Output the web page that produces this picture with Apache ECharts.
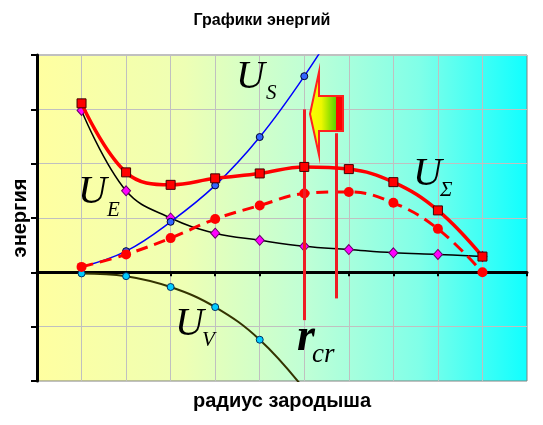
<!DOCTYPE html>
<html><head><meta charset="utf-8">
<script src="https://cdn.jsdelivr.net/npm/echarts@6/dist/echarts.min.js"></script>
<style>html,body{margin:0;padding:0;background:#fff}#c{width:543px;height:425px}</style>
</head><body><div id="c"></div>
<script>
// ---- data ----
const xs = [1, 2, 3, 4, 5, 6, 7, 8, 9, 10];
const uSigma = [3.11, 1.84, 1.61, 1.73, 1.82, 1.94, 1.90, 1.66, 1.14, 0.29];
const uE = [2.98, 1.50, 1.00, 0.72, 0.59, 0.48, 0.42, 0.36, 0.33, 0.29];
const uSx = [1, 2, 3, 4, 5, 6, 7];
const uS = [0.10, 0.39, 0.93, 1.60, 2.49, 3.61, 4.90];
const uVx = [1, 2, 3, 4, 5, 6];
const uV = [-0.02, -0.07, -0.27, -0.64, -1.24, -2.15];
const uSV = [0.10, 0.33, 0.63, 0.98, 1.23, 1.45, 1.48, 1.28, 0.80, 0.00];
// critical radius lines: [x, yTop, yBottom]
const rcrLines = [[6.0, 3.0, -0.88], [6.72, 2.56, -0.48]];

const chart = echarts.init(document.getElementById('c'));

function pairs(xa, ya, nMarked) {
  return xa.map((x, i) => i < nMarked ? [x, ya[i]] : { value: [x, ya[i]], symbol: 'none' });
}

const serif = 'Liberation Serif, Times New Roman, serif';
const sans = 'Liberation Sans, Arial, sans-serif';
function mathText(x, y, txt, size, bold) {
  return { type: 'text', x: x, y: y, z: 50,
    style: { text: txt, fontFamily: serif, fontStyle: 'italic', fontWeight: bold ? 'bold' : 'normal',
      fontSize: size, fill: '#000', align: 'left', verticalAlign: 'middle' } };
}

const option = {
  animation: false,
  grid: {
    left: 37, right: 16, top: 55, bottom: 44, show: true,
    borderColor: '#808080', borderWidth: 1,
    backgroundColor: new echarts.graphic.LinearGradient(0, 0, 1, 0, [
      { offset: 0, color: '#FFFFA0' },
      { offset: 0.3, color: '#EEFFB4' },
      { offset: 0.55, color: '#BFFFD6' },
      { offset: 0.78, color: '#80FFE8' },
      { offset: 1, color: '#10FFFF' }
    ])
  },
  xAxis: {
    type: 'value', min: 0, max: 11, interval: 1,
    axisLine: { onZero: true, lineStyle: { color: '#000', width: 3 } },
    axisTick: { show: true, length: 4, lineStyle: { color: '#000', width: 2 } },
    axisLabel: { show: false },
    splitLine: { show: true, lineStyle: { color: '#C0C0C0', width: 1 } }
  },
  yAxis: {
    type: 'value', min: -2, max: 4, interval: 1,
    axisLine: { show: true, onZero: false, lineStyle: { color: '#000', width: 3 } },
    axisTick: { show: true, length: 6, lineStyle: { color: '#000', width: 2 } },
    axisLabel: { show: false },
    splitLine: { show: true, lineStyle: { color: '#C0C0C0', width: 1 } }
  },
  series: [
    { name: 'UE', type: 'line', smooth: 0.4, data: pairs(xs, uE, 10),
      symbol: 'diamond', symbolSize: [9, 10],
      itemStyle: { color: '#FF00FF', borderColor: '#660066', borderWidth: 1 },
      lineStyle: { color: '#000', width: 1.5 }, z: 2 },
    { name: 'US', type: 'line', smooth: 0.4, data: pairs(uSx, uS, 6),
      symbol: 'circle', symbolSize: 7,
      itemStyle: { color: '#3366FF', borderColor: '#000033', borderWidth: 1 },
      lineStyle: { color: '#0000FF', width: 1.5 }, z: 3 },
    { name: 'UV', type: 'line', smooth: 0.4, data: pairs(uVx, uV, 5),
      symbol: 'circle', symbolSize: 7,
      itemStyle: { color: '#00CCFF', borderColor: '#003366', borderWidth: 1 },
      lineStyle: { color: '#333300', width: 2 }, z: 3 },
    { name: 'USV', type: 'line', smooth: 0.4, data: pairs(xs, uSV, 10),
      symbol: 'circle', symbolSize: 10,
      itemStyle: { color: '#FF0000', borderWidth: 0 },
      lineStyle: { color: '#FF0000', width: 3, type: [12, 7] }, z: 4,
      markLine: {
        silent: true, symbol: ['none', 'none'], label: { show: false },
        lineStyle: { color: '#EE1C24', width: 3, type: 'solid' },
        data: rcrLines.map(l => [{ coord: [l[0], l[1]] }, { coord: [l[0], l[2]] }])
      } },
    { name: 'USigma', type: 'line', smooth: 0.4, data: pairs(xs, uSigma, 10),
      symbol: 'rect', symbolSize: 9,
      itemStyle: { color: '#FF0000', borderColor: '#400000', borderWidth: 1 },
      lineStyle: { color: '#FF0000', width: 3.5 }, z: 5 }
  ],
  graphic: [
    { type: 'text', x: 262, y: 21, style: { text: 'Графики энергий', fontFamily: sans, fontWeight: 'bold',
      fontSize: 16, fill: '#000', align: 'center', verticalAlign: 'middle' } },
    { type: 'text', x: 282, y: 401, style: { text: 'радиус зародыша', fontFamily: sans, fontWeight: 'bold',
      fontSize: 20, fill: '#000', align: 'center', verticalAlign: 'middle' } },
    { type: 'text', x: 20, y: 218, rotation: Math.PI / 2, style: { text: 'энергия', fontFamily: sans, fontWeight: 'bold',
      fontSize: 20, fill: '#000', align: 'center', verticalAlign: 'middle' } },
    mathText(236, 77, 'U', 40), mathText(266, 93, 'S', 21),
    mathText(78, 192, 'U', 40), mathText(107, 210, 'E', 21),
    mathText(413, 174, 'U', 40), mathText(440, 190, 'Σ', 21),
    mathText(175, 324, 'U', 40), mathText(202, 340, 'V', 21),
    mathText(297, 338, 'r', 46, true), mathText(312, 355, 'cr', 27),
    { type: 'polygon', z: 60,
      shape: { points: [[310, 114], [319, 72], [319, 96], [343, 96], [343, 131], [319, 131], [319, 155]] },
      style: {
        fill: new echarts.graphic.LinearGradient(0, 0, 1, 0, [
          { offset: 0, color: '#FFFF00' },
          { offset: 0.35, color: '#EEF800' },
          { offset: 0.78, color: '#55D000' },
          { offset: 0.785, color: '#FF0000' },
          { offset: 1, color: '#FF0000' }
        ]),
        stroke: '#FF2020', lineWidth: 2
      } }
  ]
};
chart.setOption(option);
</script></body></html>
